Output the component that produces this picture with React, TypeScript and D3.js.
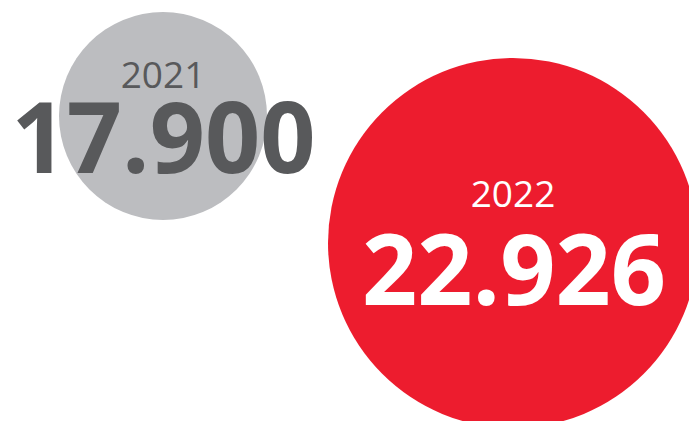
import React from "react";
import * as d3 from "d3";

const years = ["2021", "2022"];
const values = [17900, 22926];
const labels = ["17.900", "22.926"];
const fills = ["#bcbdc0", "#ed1c2e"];
const textColors = ["#58595b", "#ffffff"];

const W = 689;
const H = 421;

export default function App() {
  const x = d3.scalePoint<string>().domain(years).range([163, 513]);
  const y = d3.scalePoint<string>().domain(years).range([116, 243]);
  const r = d3.scaleLinear().domain([values[0], values[1]]).range([104, 185]);

  return (
    <svg
      width={W}
      height={H}
      style={{ position: "absolute", left: 0, top: 0, display: "block" }}
    >
      <rect width={W} height={H} fill="#ffffff" />
      {years.map((yr, i) => (
        <circle key={"c" + yr} cx={x(yr)} cy={y(yr)} r={r(values[i])} fill={fills[i]} />
      ))}
      {years.map((yr, i) => {
        const cx = x(yr)!;
        const cy = y(yr)!;
        return (
          <g key={"t" + yr} fill={textColors[i]} textAnchor="middle" fontFamily="'Open Sans', sans-serif">
            <text x={cx} y={cy - 28 - (i === 0 ? 0 : 8)} fontSize={37}>
              {yr}
            </text>
            <text
              x={cx + (i === 0 ? 0.5 : 1)}
              y={cy + 57 + (i === 0 ? 0 : 5)}
              fontSize={98}
              fontWeight={700}
              textLength={304}
              lengthAdjust="spacingAndGlyphs"
            >
              {labels[i]}
            </text>
          </g>
        );
      })}
    </svg>
  );
}
